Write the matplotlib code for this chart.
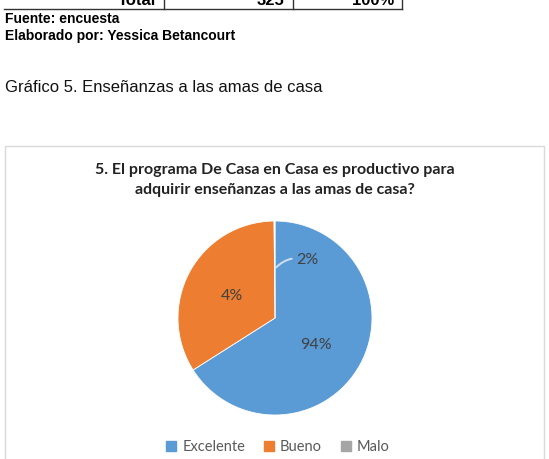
import matplotlib
matplotlib.use("Agg")
import matplotlib.pyplot as plt
from matplotlib.patches import Rectangle
from matplotlib.lines import Line2D

# ---- data ----
categories = ["Excelente", "Bueno", "Malo"]
slice_values = [66.0, 33.85, 0.15]         # slice sizes as drawn in the chart
data_labels = ["94%", "4%", "2%"]          # labels printed on the chart
colors = ["#5B9BD5", "#ED7D31", "#A5A5A5"]
table_row = ["Total", "325", "100%"]
title = "5. El programa De Casa en Casa es productivo para\nadquirir enseñanzas a las amas de casa?"

W, H = 549, 459
fig = plt.figure(figsize=(W / 100, H / 100), dpi=100)
fig.patch.set_facecolor("white")

def fx(px):
    return px / W

def fy(py):
    return 1 - py / H

# ---- document fragment above chart ----
line_y = fy(9)
fig.add_artist(Line2D([fx(4), fx(402)], [line_y, line_y], color="#333333", lw=1.0))
for xv in (164, 293, 402):
    fig.add_artist(Line2D([fx(xv), fx(xv)], [fy(-2), line_y], color="#333333", lw=1.0))
txt_kw = dict(family="Liberation Sans", fontsize=12, fontweight="bold", color="black", va="baseline")
fig.text(fx(156), fy(5), table_row[0], ha="right", **txt_kw)
fig.text(fx(284), fy(5), table_row[1], ha="right", **txt_kw)
fig.text(fx(394), fy(5), table_row[2], ha="right", **txt_kw)

fig.text(fx(5), fy(19), "Fuente: encuesta", family="Liberation Sans", fontsize=10,
         fontweight="bold", va="center", ha="left")
fig.text(fx(5), fy(36), "Elaborado por: Yessica Betancourt", family="Liberation Sans",
         fontsize=10, fontweight="bold", va="center", ha="left")
fig.text(fx(5), fy(88), "Gráfico 5. Enseñanzas a las amas de casa", family="Liberation Sans",
         fontsize=12, va="center", ha="left", color="#111111")

# ---- chart frame ----
fig.add_artist(Rectangle((fx(5), fy(470)), fx(544) - fx(5), fy(146) - fy(470),
                         transform=fig.transFigure, fill=False, edgecolor="#D9D9D9", lw=1.0))

fig.text(fx(275), fy(180), title, family="Lato", fontsize=11.5, fontweight="bold",
         ha="center", va="center", color="#222222", linespacing=1.6)

# ---- pie ----
cx, cy, r = 275, 318, 97
ax = fig.add_axes([fx(cx - r), fy(cy + r), (2 * r) / W, (2 * r) / H])
ax.pie(slice_values, colors=colors, startangle=90, counterclock=False,
       wedgeprops=dict(edgecolor="white", linewidth=0.6))
ax.set_xlim(-1, 1)
ax.set_ylim(-1, 1)
ax.set_aspect("auto")
ax.axis("off")

label_pos = [(0.42, -0.28), (-0.44, 0.23), (0.33, 0.60)]
lab_kw = dict(family="Lato", fontsize=11.5, color="#404040", ha="center", va="center")
ax.text(*label_pos[0], data_labels[0], **lab_kw)
ax.text(*label_pos[1], data_labels[1], **lab_kw)
ax.annotate(data_labels[2], xy=(0.01, 0.52), xytext=label_pos[2], **lab_kw,
            arrowprops=dict(arrowstyle="-", color="#D0DEEE", lw=1.4,
                            shrinkA=1, shrinkB=0,
                            connectionstyle="arc3,rad=0.3"))

# ---- legend ----
handles = [Rectangle((0, 0), 1, 1, color=c) for c in colors]
leg = fig.legend(handles, categories, loc="center", bbox_to_anchor=(fx(278), fy(447)),
                 ncol=3, frameon=False, handlelength=0.7, handleheight=0.7,
                 handletextpad=0.4, columnspacing=1.3,
                 prop=dict(family="Lato", size=10.5))
for t in leg.get_texts():
    t.set_color("#595959")

fig.savefig("out.png", dpi=100, facecolor="white")
